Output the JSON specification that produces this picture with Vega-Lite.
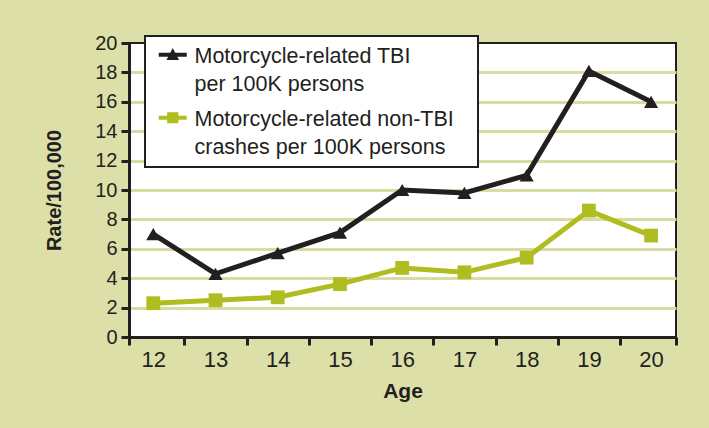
{
  "$schema": "https://vega.github.io/schema/vega-lite/v6.json",
  "width": 547,
  "height": 294,
  "autosize": {"type": "none"},
  "padding": {"left": 129, "top": 43, "right": 33, "bottom": 91},
  "background": "#dcdfa7",
  "config": {
    "font": "Liberation Sans",
    "view": {"fill": "white", "stroke": "#231f20", "strokeWidth": 2}
  },
  "data": {
    "values": [
      {"age": 12, "series": "tbi", "rate": 7.0},
      {"age": 13, "series": "tbi", "rate": 4.3},
      {"age": 14, "series": "tbi", "rate": 5.7},
      {"age": 15, "series": "tbi", "rate": 7.1},
      {"age": 16, "series": "tbi", "rate": 10.0},
      {"age": 17, "series": "tbi", "rate": 9.8},
      {"age": 18, "series": "tbi", "rate": 11.0},
      {"age": 19, "series": "tbi", "rate": 18.1},
      {"age": 20, "series": "tbi", "rate": 16.0},
      {"age": 12, "series": "non", "rate": 2.3},
      {"age": 13, "series": "non", "rate": 2.5},
      {"age": 14, "series": "non", "rate": 2.7},
      {"age": 15, "series": "non", "rate": 3.6},
      {"age": 16, "series": "non", "rate": 4.7},
      {"age": 17, "series": "non", "rate": 4.4},
      {"age": 18, "series": "non", "rate": 5.4},
      {"age": 19, "series": "non", "rate": 8.6},
      {"age": 20, "series": "non", "rate": 6.9}
    ]
  },
  "encoding": {
    "x": {
      "field": "age",
      "type": "quantitative",
      "title": "Age",
      "scale": {"domain": [11.61, 20.4], "nice": false, "zero": false},
      "axis": {
        "values": [11.61, 12, 12.5, 13, 13.5, 14, 14.5, 15, 15.5, 16, 16.5, 17, 17.5, 18, 18.5, 19, 19.5, 20, 20.4],
        "labelExpr": "datum.value % 1 == 0 ? format(datum.value, 'd') : ''",
        "labelOverlap": false,
        "labelFlush": false,
        "labelBound": false,
        "grid": false,
        "domainColor": "#231f20",
        "domainWidth": 3,
        "tickColor": "#231f20",
        "tickWidth": 3,
        "tickSize": 8,
        "tickOpacity": {"condition": {"test": "datum.value % 1 == 0", "value": 0}, "value": 1},
        "labelFont": "Liberation Sans",
        "labelFontSize": 22,
        "labelColor": "#231f20",
        "labelPadding": 4,
        "titleFont": "Liberation Sans",
        "titleFontSize": 21,
        "titleFontWeight": "bold",
        "titleColor": "#231f20",
        "titlePadding": 10
      }
    },
    "y": {
      "field": "rate",
      "type": "quantitative",
      "title": "Rate/100,000",
      "scale": {"domain": [0, 20], "nice": false},
      "axis": {
        "values": [0, 2, 4, 6, 8, 10, 12, 14, 16, 18, 20],
        "grid": true,
        "gridColor": {"condition": {"test": "datum.value == 0 || datum.value == 20", "value": "transparent"}, "value": "#d9dca2"},
        "gridWidth": 3,
        "gridOpacity": 1,
        "domainColor": "#231f20",
        "domainWidth": 3,
        "tickColor": "#231f20",
        "tickWidth": 3,
        "tickSize": 8,
        "labelFont": "Liberation Sans",
        "labelFontSize": 20,
        "labelColor": "#231f20",
        "labelPadding": 4,
        "titleFont": "Liberation Sans",
        "titleFontSize": 20,
        "titleFontWeight": "bold",
        "titleColor": "#231f20",
        "titleX": -75,
        "titleY": 147,
        "titleBaseline": "middle",
        "titleAlign": "center"
      }
    }
  },
  "layer": [
    {
      "transform": [{"filter": "datum.series == 'tbi'"}],
      "mark": {"type": "line", "strokeWidth": 5, "color": "#231f20"}
    },
    {
      "transform": [{"filter": "datum.series == 'non'"}],
      "mark": {"type": "line", "strokeWidth": 5, "color": "#afbd21"}
    },
    {
      "transform": [{"filter": "datum.series == 'tbi'"}],
      "mark": {"type": "point", "filled": true, "opacity": 1, "size": 200, "shape": "triangle-up", "color": "#231f20"}
    },
    {
      "transform": [{"filter": "datum.series == 'non'"}],
      "mark": {"type": "point", "filled": true, "opacity": 1, "size": 190, "shape": "square", "color": "#afbd21"}
    },
    {
      "mark": {"type": "point", "filled": true, "opacity": 0, "size": 10},
      "encoding": {
        "shape": {
          "field": "series",
          "type": "nominal",
          "scale": {"domain": ["tbi", "non"], "range": ["M-2,-0.3L2,-0.3L2,0.3L-2,0.3Z M-0.9,0.75L0,-0.95L0.9,0.75Z", "M-2,-0.3L2,-0.3L2,0.3L-2,0.3Z M-0.8,-0.8L0.8,-0.8L0.8,0.8L-0.8,0.8Z"]},
          "legend": {
            "title": null,
            "orient": "none",
            "legendX": 16,
            "legendY": -7,
            "fillColor": "white",
            "strokeColor": "#231f20",
            "padding": 8,
            "symbolSize": 196,
            "symbolOffset": 9,
            "symbolOpacity": 1,
            "symbolStrokeWidth": 0,
            "labelOffset": 11,
            "labelFont": "Liberation Sans",
            "labelFontSize": 21.5,
            "labelColor": "#231f20",
            "labelLimit": 400,
            "labelBaseline": "alphabetic",
            "rowPadding": 11,
            "labelExpr": "datum.value == 'tbi' ? ['Motorcycle-related TBI', 'per 100K persons'] : ['Motorcycle-related non-TBI\u2800', 'crashes per 100K persons']",
            "encode": {
              "legend": {"update": {"strokeWidth": {"value": 2}}},
              "labels": {"update": {"lineHeight": {"value": 28}, "dy": {"value": 8}}}
            }
          }
        },
        "color": {
          "field": "series",
          "type": "nominal",
          "scale": {"domain": ["tbi", "non"], "range": ["#231f20", "#afbd21"]},
          "legend": {
            "title": null,
            "orient": "none",
            "legendX": 16,
            "legendY": -7,
            "fillColor": "white",
            "strokeColor": "#231f20",
            "padding": 8,
            "symbolSize": 196,
            "symbolOffset": 9,
            "symbolOpacity": 1,
            "symbolStrokeWidth": 0,
            "labelOffset": 11,
            "labelFont": "Liberation Sans",
            "labelFontSize": 21.5,
            "labelColor": "#231f20",
            "labelLimit": 400,
            "labelBaseline": "alphabetic",
            "rowPadding": 11,
            "labelExpr": "datum.value == 'tbi' ? ['Motorcycle-related TBI', 'per 100K persons'] : ['Motorcycle-related non-TBI\u2800', 'crashes per 100K persons']",
            "encode": {
              "legend": {"update": {"strokeWidth": {"value": 2}}},
              "labels": {"update": {"lineHeight": {"value": 28}, "dy": {"value": 8}}}
            }
          }
        }
      }
    }
  ]
}
